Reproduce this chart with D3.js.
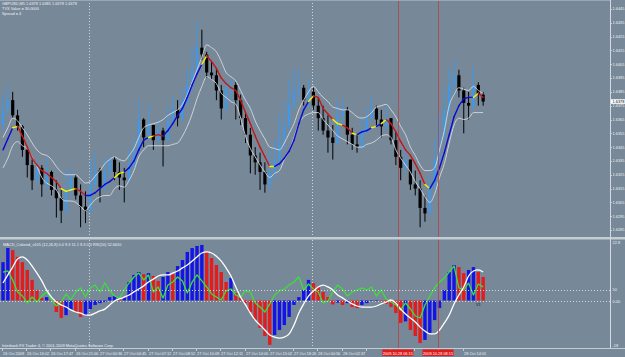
<!DOCTYPE html>
<html>
<head>
<meta charset="utf-8">
<script src="https://cdn.jsdelivr.net/npm/d3@7"></script>
<style>
html, body { margin: 0; padding: 0; background: #778899; overflow: hidden; }
svg { display: block; }
text { font-family: "Liberation Sans", Arial, sans-serif; }
</style>
</head>
<body>
<svg id="chart" width="625" height="357"></svg>
<script>
// ---- price bars (open of each bar = previous close) ----
const firstOpen = 1.6361;
const closePx = [1.6372,1.6379,1.6368,1.6360,1.6343,1.6332,1.6321,1.6330,1.6318,1.6327,
  1.6314,1.6308,1.6299,1.6314,1.6323,1.6310,1.6302,1.6299,1.6318,1.6328,
  1.6316,1.6327,1.6336,1.6327,1.6323,1.6321,1.6332,1.6343,1.6365,1.6352,
  1.6361,1.6350,1.6357,1.6350,1.6365,1.6372,1.6366,1.6379,1.6390,1.6401,
  1.6417,1.6412,1.6399,1.6397,1.6386,1.6373,1.6388,1.6390,1.6379,1.6366,
  1.6354,1.6339,1.6334,1.6327,1.6318,1.6327,1.6336,1.6350,1.6361,1.6375,
  1.6386,1.6388,1.6379,1.6385,1.6375,1.6366,1.6357,1.6352,1.6348,1.6368,
  1.6372,1.6354,1.6347,1.6345,1.6357,1.6366,1.6373,1.6365,1.6360,1.6366,
  1.6350,1.6338,1.6330,1.6336,1.6318,1.6315,1.6301,1.6297,1.6318,1.6336,
  1.6354,1.6372,1.6390,1.6397,1.6386,1.6377,1.6375,1.6390,1.6383,1.6378];
const highPx = [1.6383,1.6390,1.6385,1.6372,1.6361,1.6345,1.6336,1.6336,1.6332,1.6337,
  1.6328,1.6321,1.6314,1.6328,1.6330,1.6325,1.6318,1.6313,1.6336,1.6341,
  1.6330,1.6336,1.6339,1.6338,1.6334,1.6330,1.6343,1.6350,1.6379,1.6366,
  1.6375,1.6361,1.6365,1.6359,1.6375,1.6383,1.6379,1.6388,1.6401,1.6419,
  1.6436,1.6430,1.6414,1.6407,1.6402,1.6390,1.6394,1.6394,1.6392,1.6383,
  1.6370,1.6359,1.6345,1.6341,1.6334,1.6343,1.6350,1.6368,1.6379,1.6394,
  1.6402,1.6401,1.6390,1.6395,1.6388,1.6381,1.6375,1.6368,1.6361,1.6379,
  1.6379,1.6374,1.6359,1.6354,1.6366,1.6373,1.6381,1.6375,1.6372,1.6375,
  1.6366,1.6356,1.6343,1.6343,1.6336,1.6328,1.6321,1.6310,1.6325,1.6350,
  1.6368,1.6386,1.6402,1.6408,1.6401,1.6388,1.6385,1.6403,1.6392,1.6385];
const lowPx = [1.6357,1.6368,1.6366,1.6357,1.6338,1.6323,1.6314,1.6318,1.6309,1.6315,
  1.6310,1.6294,1.6290,1.6297,1.6310,1.6307,1.6287,1.6290,1.6298,1.6314,
  1.6305,1.6314,1.6323,1.6321,1.6314,1.6305,1.6320,1.6330,1.6341,1.6345,
  1.6350,1.6343,1.6348,1.6331,1.6349,1.6361,1.6360,1.6363,1.6375,1.6386,
  1.6397,1.6408,1.6395,1.6394,1.6379,1.6365,1.6370,1.6379,1.6365,1.6361,
  1.6348,1.6326,1.6325,1.6314,1.6312,1.6314,1.6321,1.6330,1.6343,1.6357,
  1.6372,1.6379,1.6375,1.6373,1.6372,1.6357,1.6354,1.6341,1.6336,1.6347,
  1.6361,1.6347,1.6343,1.6341,1.6343,1.6354,1.6363,1.6361,1.6352,1.6357,
  1.6347,1.6332,1.6321,1.6327,1.6314,1.6310,1.6287,1.6291,1.6296,1.6314,
  1.6332,1.6350,1.6368,1.6383,1.6381,1.6355,1.6365,1.6372,1.6375,1.6375];

// ---- channel indicator: middle line, upper and lower band ----
const maMid = [1.6343,1.6351,1.6359,1.6360,1.6353,1.6345,1.6337,1.6332,1.6328,1.6326,
  1.6323,1.6320,1.6315,1.6313,1.6314,1.6315,1.6313,1.6310,1.6310,1.6312,
  1.6315,1.6318,1.6320,1.6323,1.6326,1.6327,1.6330,1.6335,1.6343,1.6350,
  1.6352,1.6353,1.6354,1.6353,1.6357,1.6362,1.6368,1.6373,1.6381,1.6390,
  1.6398,1.6405,1.6411,1.6407,1.6402,1.6395,1.6391,1.6388,1.6386,1.6379,
  1.6370,1.6362,1.6353,1.6345,1.6338,1.6331,1.6331,1.6333,1.6337,1.6342,
  1.6350,1.6362,1.6372,1.6378,1.6382,1.6381,1.6373,1.6369,1.6365,1.6362,
  1.6361,1.6359,1.6355,1.6354,1.6356,1.6357,1.6359,1.6360,1.6362,1.6365,
  1.6362,1.6356,1.6349,1.6343,1.6339,1.6333,1.6326,1.6318,1.6315,1.6321,
  1.6330,1.6341,1.6354,1.6367,1.6375,1.6380,1.6381,1.6381,1.6384,1.6381];
// b = up (blue), r = down (red), y = flat (yellow)
const maTrend = "bbbyrrrrrr" + "rrryyyrrbb" + "bbbbyybbbb" + "byrrbbbbbb" + "bbyrrrrrrr" +
                "rrrrrrybbb" + "bbbbyrrrry" + "yrrybbbyby" + "rrrrrrrryb" + "bbbbbbbbyr";
const bandUp = [1.6352,1.6359,1.6366,1.6364,1.6359,1.6354,1.6348,1.6343,1.6340,1.6339,
  1.6336,1.6331,1.6327,1.6325,1.6325,1.6325,1.6322,1.6319,1.6320,1.6324,
  1.6328,1.6333,1.6336,1.6338,1.6336,1.6335,1.6339,1.6344,1.6352,1.6359,
  1.6361,1.6362,1.6363,1.6365,1.6368,1.6370,1.6372,1.6376,1.6383,1.6392,
  1.6401,1.6410,1.6419,1.6417,1.6414,1.6407,1.6399,1.6396,1.6393,1.6386,
  1.6379,1.6373,1.6364,1.6357,1.6351,1.6345,1.6344,1.6343,1.6348,1.6355,
  1.6362,1.6372,1.6379,1.6385,1.6389,1.6385,1.6381,1.6378,1.6374,1.6373,
  1.6372,1.6372,1.6370,1.6367,1.6366,1.6367,1.6370,1.6374,1.6375,1.6376,
  1.6372,1.6367,1.6360,1.6354,1.6345,1.6339,1.6332,1.6328,1.6328,1.6330,
  1.6343,1.6357,1.6375,1.6383,1.6388,1.6387,1.6386,1.6389,1.6386,1.6384];
const bandDn = [1.6330,1.6337,1.6346,1.6349,1.6346,1.6344,1.6338,1.6331,1.6323,1.6319,
  1.6317,1.6314,1.6308,1.6306,1.6306,1.6305,1.6302,1.6299,1.6303,1.6307,
  1.6309,1.6310,1.6310,1.6315,1.6317,1.6316,1.6321,1.6328,1.6338,1.6343,
  1.6346,1.6346,1.6346,1.6346,1.6346,1.6347,1.6348,1.6353,1.6360,1.6369,
  1.6380,1.6389,1.6396,1.6394,1.6391,1.6384,1.6381,1.6378,1.6376,1.6366,
  1.6353,1.6344,1.6338,1.6332,1.6327,1.6323,1.6326,1.6328,1.6336,1.6342,
  1.6352,1.6362,1.6367,1.6369,1.6370,1.6370,1.6365,1.6361,1.6357,1.6353,
  1.6351,1.6349,1.6347,1.6345,1.6345,1.6347,1.6348,1.6350,1.6353,1.6354,
  1.6352,1.6343,1.6337,1.6332,1.6327,1.6320,1.6315,1.6309,1.6305,1.6311,
  1.6323,1.6333,1.6348,1.6361,1.6366,1.6365,1.6366,1.6370,1.6370,1.6370];

// ---- MACD sub-window ----
const macdHist = [14.7,20.1,19.3,16.7,14.7,11.7,7.9,4.0,1.0,1.3,
  0.2,-4.4,-6.7,-5.6,-3.6,-4.4,-6.3,-5.9,-3.3,-1.7,
  -1.0,-0.6,1.3,1.7,0.6,1.3,7.1,9.8,10.9,10.1,
  10.5,9.4,7.5,9.0,10.9,10.1,13.2,15.5,18.6,20.1,
  20.9,21.3,18.6,16.3,13.6,10.9,7.1,8.6,2.9,1.0,
  -1.0,-4.4,-7.5,-10.5,-13.6,-17.0,-13.2,-11.3,-9.4,-6.3,
  -1.7,1.3,4.0,7.9,6.7,5.2,3.3,1.3,-1.5,-0.8,
  -1.7,-1.0,-2.5,-2.9,-1.7,-1.0,-0.2,0.2,-0.2,-1.3,
  -2.5,-4.8,-8.6,-8.0,-11.3,-13.6,-16.3,-15.1,-12.4,-7.5,
  -2.9,4.0,10.9,13.6,12.8,10.5,11.7,12.8,10.9,9.0];
const macdSignal = [6.7,9.8,12.8,15.9,16.7,15.5,13.2,10.5,7.5,4.0,
  1.3,-0.6,-1.7,-2.5,-3.6,-4.4,-4.8,-5.6,-5.6,-4.8,
  -4.0,-3.3,-1.7,-0.2,0.6,1.3,2.1,3.3,4.4,5.6,
  7.1,8.2,9.4,9.8,9.8,10.5,11.3,12.5,13.6,15.1,
  16.7,18.2,18.6,18.2,17.0,15.1,12.5,9.4,5.2,1.3,
  -1.7,-4.8,-7.5,-9.4,-11.3,-13.2,-14.0,-14.4,-14.0,-12.8,
  -9.4,-4.8,-1.3,1.7,3.6,5.2,5.9,5.2,4.0,2.1,
  1.0,-0.2,-1.3,-2.1,-2.5,-2.5,-2.5,-2.1,-1.3,-0.6,
  0.2,-1.0,-3.3,-5.2,-6.7,-8.2,-10.2,-11.7,-12.8,-12.8,
  -11.3,-8.6,-5.6,-1.3,2.1,5.2,9.4,11.3,11.7,10.9];
const rsiLine = [68.0,69.1,59.8,47.4,43.3,36.1,42.3,37.1,43.3,47.4,
  39.2,33.0,37.1,45.4,39.2,47.4,51.6,42.3,51.6,54.6,
  47.4,56.7,48.5,43.3,41.2,49.5,56.7,62.9,67.0,59.8,
  65.0,47.4,52.6,41.2,54.6,57.7,62.9,58.8,46.4,57.7,
  65.0,58.8,52.6,45.4,42.3,39.2,48.5,50.5,44.3,42.3,
  48.5,47.4,36.1,32.0,26.8,35.1,44.3,48.5,50.5,54.6,
  57.7,62.9,49.5,55.7,50.5,47.4,36.1,38.1,47.4,54.6,
  50.5,43.3,47.4,49.5,51.6,49.5,52.6,43.3,49.5,40.2,
  37.1,34.0,28.9,36.1,29.9,22.7,20.6,34.0,43.3,51.6,
  57.7,61.9,68.0,74.2,51.6,49.5,56.7,44.3,55.7,52.7];

// ---- axes and annotations ----
const priceTicks = [1.6445,1.6435,1.6425,1.6415,1.6405,1.6395,1.6385,1.6375,1.6365,
  1.6355,1.6345,1.6335,1.6325,1.6315,1.6305,1.6295,1.6285];
const timeLabelBars = [0,5,10,15,20,25,30,35,40,45,50,55,60,65,70,75,80,85,90,95];
const timeLabels = ["26 Oct 2009","26 Oct 16:02","26 Oct 17:47","26 Oct 21:00","27 Oct 00:36",
  "27 Oct 04:45","27 Oct 07:12","27 Oct 08:52","27 Oct 10:09","27 Oct 12:11",
  "27 Oct 14:00","27 Oct 15:02","27 Oct 18:26","28 Oct 00:56","28 Oct 02:37",
  "28 Oct 05:03","28 Oct 06:02","28 Oct 07:40","28 Oct 10:00","28 Oct 14:01"];
const daySeparatorBars = [17.7, 63.8];
const markerBars = [81.4, 89.7];
const markerLabels = ["2009.10.28 06:15", "2009.10.28 08:15"];
const macdLevels = [22.8, 0];
const rsiLevels = [50];
const headerLines = ["GBPUSD,M5  1.6378 1.6385 1.6378 1.6378", "TVS Value = 30.0000", "Spread = 4"];
const macdHeader = "MACD_Colored_v105 (12,26,9) 0.0 9.3 11.1 9.3 0.0 RSI(10) 52.6610";
const copyright = "Interbank FX Trader 4, \u00a9 2001-2009 MetaQuotes Software Corp.";
const lastPrice = 1.6378;

const W = 625, H = 357;
const axisX = 610;
const mainTop = 0, mainBottom = 237;
const subTop = 240, subBottom = 348;
const fs = 3.9;
const markerHalf = 15.5;

const svg = d3.select('#chart');
const n = closePx.length;
const openPx = closePx.map((c, i) => i ? closePx[i - 1] : firstOpen);

const x = d3.scaleLinear().domain([0, n - 1]).range([3, 483.15]);
const yP = d3.scaleLinear().domain([1.6285, 1.6445]).range([230, 9]);
const yM = d3.scaleLinear().domain([-18, 22.8]).range([347.5, 241]);
const yR = d3.scaleLinear().domain([0, 100]).range([338, 241]);

svg.append('rect').attr('width', W).attr('height', H).attr('fill', '#778899');

const defs = svg.append('defs');
defs.append('clipPath').attr('id', 'clipMain').append('rect')
    .attr('x', 0).attr('y', mainTop).attr('width', axisX).attr('height', mainBottom - mainTop);
defs.append('clipPath').attr('id', 'clipSub').append('rect')
    .attr('x', 0).attr('y', subTop).attr('width', axisX).attr('height', subBottom - subTop);

// period separators (dotted)
const vlines = svg.append('g');
daySeparatorBars.forEach(b => {
    vlines.append('line')
        .attr('x1', Math.round(x(b)) + 0.5).attr('x2', Math.round(x(b)) + 0.5)
        .attr('y1', 0).attr('y2', subBottom)
        .attr('stroke', '#e8e8e8').attr('stroke-width', 0.8)
        .attr('stroke-dasharray', '1,2');
});

// ---- main panel ----
const main = svg.append('g').attr('clip-path', 'url(#clipMain)');

const bars = d3.range(n).map(i => ({
    i: i, o: openPx[i], h: highPx[i], l: lowPx[i], c: closePx[i]
}));

const candle = main.selectAll('g.candle').data(bars).enter()
    .append('g').attr('class', 'candle');
candle.append('line')
    .attr('x1', d => x(d.i)).attr('x2', d => x(d.i))
    .attr('y1', d => yP(d.h)).attr('y2', d => yP(d.l))
    .attr('stroke', d => d.c >= d.o ? '#3f98e8' : '#000')
    .attr('stroke-width', 1);
candle.append('rect')
    .attr('x', d => x(d.i) - (d.c >= d.o ? 1.2 : 1.6))
    .attr('width', d => d.c >= d.o ? 2.4 : 3.2)
    .attr('y', d => yP(Math.max(d.o, d.c)))
    .attr('height', d => Math.max(1, Math.abs(yP(d.o) - yP(d.c))))
    .attr('fill', d => d.c >= d.o ? '#3f98e8' : '#000');

const bandLine = d3.line()
    .x((d, i) => x(i))
    .y(d => yP(d))
    .curve(d3.curveMonotoneX);
[bandUp, bandDn].forEach(arr => {
    main.append('path').attr('d', bandLine(arr))
        .attr('fill', 'none').attr('stroke', '#d6dadf').attr('stroke-width', 0.9);
});

const trendColor = { b: '#0a0ad2', r: '#c41818', y: '#f4f400' };
const segs = d3.range(1, n).map(i => ({ a: i - 1, b: i, t: maTrend[i] }));
main.selectAll('line.ma').data(segs).enter()
    .append('line').attr('class', 'ma')
    .attr('x1', d => x(d.a)).attr('y1', d => yP(maMid[d.a]))
    .attr('x2', d => x(d.b)).attr('y2', d => yP(maMid[d.b]))
    .attr('stroke', d => trendColor[d.t])
    .attr('stroke-width', 1.4)
    .attr('stroke-linecap', 'round');

// ---- MACD panel ----
const sub = svg.append('g').attr('clip-path', 'url(#clipSub)');

sub.selectAll('rect.hist').data(macdHist).enter()
    .append('rect').attr('class', 'hist')
    .attr('x', (d, i) => x(i) - 1.7)
    .attr('width', 3.4)
    .attr('y', d => Math.min(yM(0), yM(d)))
    .attr('height', d => Math.abs(yM(d) - yM(0)))
    .attr('fill', (d, i) => (i === 0 || d >= macdHist[i - 1]) ? '#1414e6' : '#e41c1c');

const lvlG = svg.append('g');
macdLevels.filter(v => v === 0).forEach(v => {
    lvlG.append('line').attr('x1', 0).attr('x2', axisX)
        .attr('y1', Math.round(yM(v)) + 0.5).attr('y2', Math.round(yM(v)) + 0.5)
        .attr('stroke', '#ececec').attr('stroke-width', 0.8).attr('stroke-dasharray', '1,2');
});
rsiLevels.forEach(v => {
    lvlG.append('line').attr('x1', 0).attr('x2', axisX)
        .attr('y1', Math.round(yR(v)) + 0.5).attr('y2', Math.round(yR(v)) + 0.5)
        .attr('stroke', '#ececec').attr('stroke-width', 0.8).attr('stroke-dasharray', '1,2');
});

const rsiPath = d3.line().x((d, i) => x(i)).y(d => yR(d));
sub.append('path').attr('d', rsiPath(rsiLine))
    .attr('fill', 'none').attr('stroke', '#3ae03a').attr('stroke-width', 1.3)
    .attr('stroke-linejoin', 'round');

const sigPath = d3.line().x((d, i) => x(i)).y(d => yM(d)).curve(d3.curveMonotoneX);
sub.append('path').attr('d', sigPath(macdSignal))
    .attr('fill', 'none').attr('stroke', '#ffffff').attr('stroke-width', 1.3);

sub.append('text').attr('x', x(97.5)).attr('y', yM(0) + 5.5)
    .attr('font-size', fs).attr('fill', '#111').text('V1');

// red marker lines
markerBars.forEach(b => {
    svg.append('line')
        .attr('x1', Math.round(x(b)) + 0.5).attr('x2', Math.round(x(b)) + 0.5)
        .attr('y1', 0).attr('y2', subBottom)
        .attr('stroke', '#b84040').attr('stroke-width', 0.8);
});

// ---- frames ----
svg.append('rect').attr('x', 0).attr('y', mainBottom).attr('width', W).attr('height', 2.5)
    .attr('fill', '#c4ccd4');
svg.append('line').attr('x1', 0).attr('x2', W).attr('y1', subBottom + 0.5).attr('y2', subBottom + 0.5)
    .attr('stroke', '#c4ccd4').attr('stroke-width', 1);
svg.append('line').attr('x1', 0).attr('x2', axisX).attr('y1', 0.5).attr('y2', 0.5)
    .attr('stroke', '#9aa8b6').attr('stroke-width', 1);
svg.append('line').attr('x1', axisX + 0.5).attr('x2', axisX + 0.5).attr('y1', 0).attr('y2', subBottom)
    .attr('stroke', '#d4dae0').attr('stroke-width', 1);

// ---- price axis ----
const pAxis = svg.append('g');
pAxis.selectAll('line').data(priceTicks).enter().append('line')
    .attr('x1', axisX).attr('x2', axisX + 2)
    .attr('y1', d => Math.round(yP(d)) + 0.5).attr('y2', d => Math.round(yP(d)) + 0.5)
    .attr('stroke', '#d4dae0').attr('stroke-width', 0.8);
pAxis.selectAll('text').data(priceTicks.filter(d => Math.abs(yP(d) - yP(lastPrice)) > 3.5))
    .enter().append('text')
    .attr('x', axisX + 2.5).attr('y', d => yP(d) + 1.4)
    .attr('font-size', fs).attr('fill', '#eef0f2')
    .text(d => d3.format('.4f')(d));
pAxis.append('rect').attr('x', axisX + 1).attr('y', yP(lastPrice) - 2.3)
    .attr('width', W - axisX - 1).attr('height', 4.6).attr('fill', '#ffffff');
pAxis.append('text').attr('x', axisX + 2.5).attr('y', yP(lastPrice) + 1.4)
    .attr('font-size', fs).attr('fill', '#000').text(d3.format('.4f')(lastPrice));

// ---- MACD axis ----
const mAxis = svg.append('g');
const macdAxisItems = [
    { y: yM(macdLevels[0]) + 1.5, t: d3.format('.1f')(macdLevels[0]) },
    { y: yR(rsiLevels[0]), t: String(rsiLevels[0]) },
    { y: yM(macdLevels[1]) + 1, t: '0.00' },
    { y: yM(-18) - 1.5, t: '-18' }
];
mAxis.selectAll('text').data(macdAxisItems).enter().append('text')
    .attr('x', axisX + 2.5).attr('y', d => d.y + 1.4)
    .attr('font-size', fs).attr('fill', '#eef0f2').text(d => d.t);

// ---- time axis ----
const tAxis = svg.append('g');
const markerSpans = markerBars.map(b => [x(b) - markerHalf, x(b) + markerHalf]);
timeLabelBars.forEach((b, k) => {
    const tx = Math.round(x(b)) - 1;
    tAxis.append('line').attr('x1', tx + 0.5).attr('x2', tx + 0.5)
        .attr('y1', subBottom + 1).attr('y2', subBottom + 3)
        .attr('stroke', '#d4dae0').attr('stroke-width', 0.8);
    // labels hidden behind the red marker boxes are not drawn
    const hidden = markerSpans.some(s => tx + 23 > s[0] && tx < s[1]);
    if (!hidden) {
        tAxis.append('text').attr('x', tx + 1).attr('y', 355)
            .attr('font-size', fs).attr('fill', '#eef0f2').text(timeLabels[k]);
    }
});
markerBars.forEach((b, k) => {
    const cx = x(b);
    tAxis.append('rect').attr('x', cx - markerHalf).attr('y', subBottom + 1.5)
        .attr('width', markerHalf * 2).attr('height', 6.5).attr('fill', '#e01b1b');
    tAxis.append('text').attr('x', cx).attr('y', 355).attr('text-anchor', 'middle')
        .attr('font-size', fs).attr('fill', '#ffffff').text(markerLabels[k]);
});

// ---- texts ----
const hdr = svg.append('g');
headerLines.forEach((t, k) => {
    hdr.append('text').attr('x', 2).attr('y', 5 + k * 4.8)
        .attr('font-size', fs).attr('fill', '#f2f2f2').text(t);
});
svg.append('text').attr('x', 3).attr('y', 245.5)
    .attr('font-size', fs).attr('fill', '#f2f2f2').text(macdHeader);
svg.append('text').attr('x', 2).attr('y', 347)
    .attr('font-size', fs).attr('fill', '#f2f2f2').text(copyright);
</script>
</body>
</html>
